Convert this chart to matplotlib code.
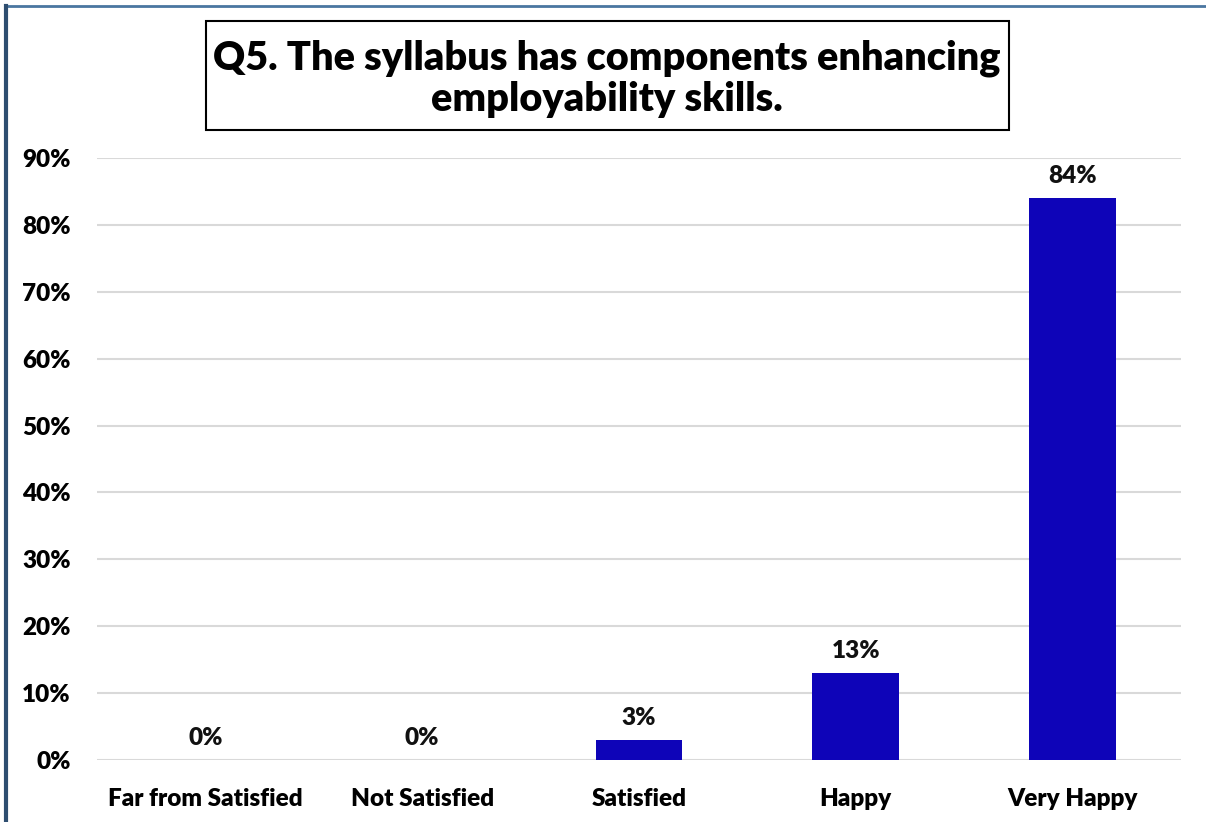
import matplotlib.pyplot as plt
from matplotlib.patches import Rectangle
from matplotlib.lines import Line2D

categories = ['Far from Satisfied', 'Not Satisfied', 'Satisfied', 'Happy', 'Very Happy']
values = [0, 0, 3, 13, 84]
yticks = [0, 10, 20, 30, 40, 50, 60, 70, 80, 90]

plt.rcParams['font.family'] = ['Lato', 'DejaVu Sans']

fig = plt.figure(figsize=(12.06, 8.22), dpi=100)
W, H = 1206, 822
ax = fig.add_axes([97 / W, 1 - 760 / H, (1181 - 97) / W, (760 - 158) / H])

x = range(len(categories))
ax.bar(x, values, width=0.4, color='#0E04B8', zorder=3)
for i, v in enumerate(values):
    ax.text(i, v + 1.6, f'{v}%', ha='center', va='bottom',
            fontsize=17.5, fontweight='heavy', color='#111111')

ax.set_xlim(-0.5, len(categories) - 0.5)
ax.set_ylim(0, 90)
ax.set_yticks(yticks)
ax.set_yticklabels([f'{t}%' for t in yticks], fontsize=17.5, fontweight='heavy')
ax.set_xticks(list(x))
ax.set_xticklabels(categories, fontsize=17.5, fontweight='heavy')
ax.tick_params(length=0, pad=20)
ax.tick_params(axis='y', pad=19)
ax.grid(axis='y', color='#D9D9D9', linewidth=1.5, zorder=0)
ax.set_axisbelow(True)
for s in ax.spines.values():
    s.set_visible(False)

# title box
fig.patches.append(Rectangle((206 / W, 1 - 130 / H), (1009 - 206) / W, (130 - 21) / H,
                             transform=fig.transFigure, fill=False,
                             edgecolor='black', linewidth=1.5))
fig.text(607 / W, 1 - 79 / H, 'Q5. The syllabus has components enhancing\nemployability skills.',
         ha='center', va='center', fontsize=28.5, fontweight='heavy', linespacing=1.15)

# outer frame lines
fig.lines.append(Line2D([6 / W, 1], [1 - 6 / H, 1 - 6 / H], transform=fig.transFigure,
                        color='#4A76A0', linewidth=2))
fig.lines.append(Line2D([6 / W, 6 / W], [0, 1 - 6 / H], transform=fig.transFigure,
                        color='#2E4E70', linewidth=3))

fig.savefig('out.png', dpi=100)
